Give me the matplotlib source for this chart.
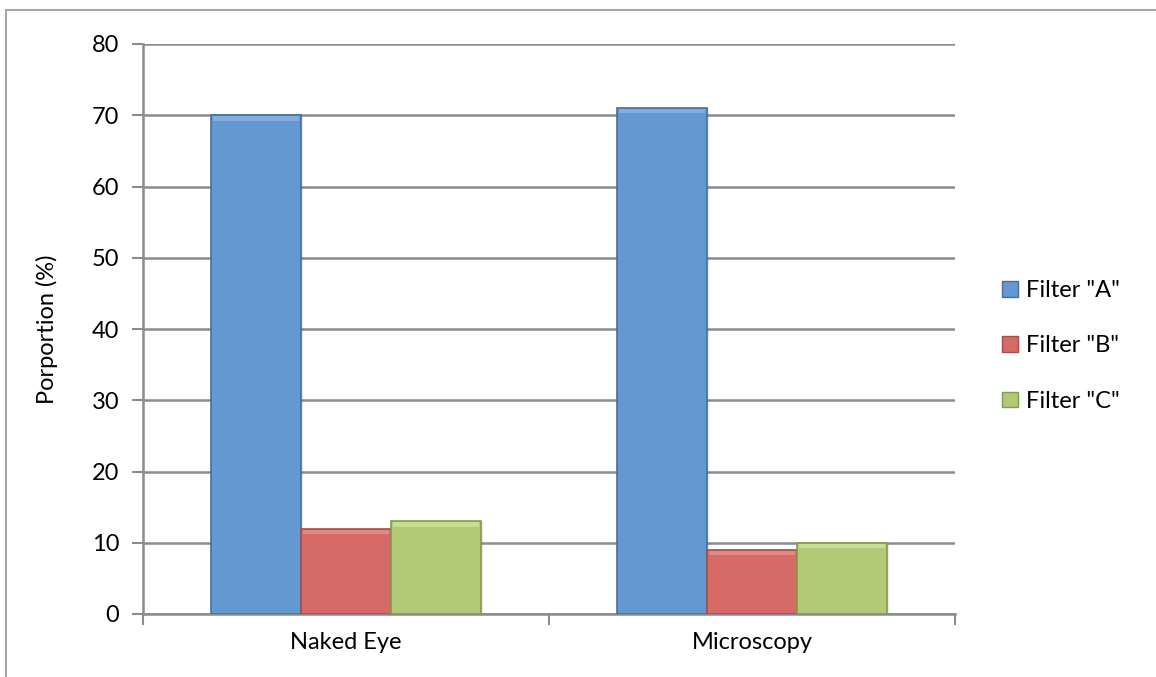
import numpy as np
import matplotlib.pyplot as plt
from matplotlib.lines import Line2D

plt.rcParams['font.family'] = ['Lato', 'DejaVu Sans']

categories = ['Naked Eye', 'Microscopy']
series_names = ['Filter "A"', 'Filter "B"', 'Filter "C"']
filter_a = [70, 71]
filter_b = [12, 9]
filter_c = [13, 10]
y_ticks = [0, 10, 20, 30, 40, 50, 60, 70, 80]

face_colors = ['#6398d0', '#d66a67', '#b2ca76']
edge_colors = ['#44709f', '#a64d4b', '#849b4f']
light_colors = ['#9cc3ee', '#f0a19e', '#d9eda4']
grid_color = '#8c8c8c'
fs = 17

fig = plt.figure(figsize=(11.56, 6.77), dpi=100)
ax = fig.add_axes([143 / 1156, 63 / 677, 812 / 1156, 570 / 677])

x = np.arange(len(categories))
width = 90 / 406
offsets = [-width, 0, width]

for vals, off, fc, ec, lc in zip([filter_a, filter_b, filter_c], offsets,
                                 face_colors, edge_colors, light_colors):
    # soft shadow to the right of each bar
    ax.bar(x + off + 0.006, vals, width, color='#000000', alpha=0.08,
           linewidth=0, zorder=2)
    ax.bar(x + off, vals, width, color=fc, edgecolor=ec, linewidth=1.2,
           zorder=3)
    # bevel highlight along the top edge
    ax.bar(x + off, [0.6] * len(vals), width * 0.95,
           bottom=[v - 0.75 for v in vals], color=lc, alpha=0.55,
           linewidth=0, zorder=4)

ax.set_xlim(-0.5, 1.5)
ax.set_ylim(0, 80)
ax.set_yticks(y_ticks)
ax.set_xticks([-0.5, 0.5, 1.5], minor=False)
ax.set_xticklabels([])
ax.set_xticks(x, minor=True)
ax.set_xticklabels(categories, minor=True)
ax.tick_params(axis='x', which='minor', length=0, pad=13, labelsize=fs)
ax.tick_params(axis='x', which='major', length=8, width=1.5,
               color=grid_color)
ax.tick_params(axis='y', length=8, width=1.5, color=grid_color,
               labelsize=fs, pad=9)

ax.yaxis.grid(True, color=grid_color, linewidth=1.8, zorder=0)
ax.set_axisbelow(True)
for side in ['top', 'right']:
    ax.spines[side].set_visible(False)
for side in ['left', 'bottom']:
    ax.spines[side].set_color(grid_color)
    ax.spines[side].set_linewidth(1.8)

ax.set_ylabel('Porportion (%)', fontsize=fs, labelpad=24)

handles = [plt.Rectangle((0, 0), 1, 1, facecolor=fc, edgecolor=ec)
           for fc, ec in zip(face_colors, edge_colors)]
fig.legend(handles, series_names, loc='center left',
           bbox_to_anchor=(981 / 1156, 1 - 346 / 677), frameon=False,
           fontsize=fs, handlelength=0.65, handleheight=0.65,
           handletextpad=0.35, labelspacing=1.45)

# outer chart border
fig.add_artist(Line2D([6 / 1156, 6 / 1156], [0, 1 - 10 / 677],
                      transform=fig.transFigure, color='#a6a6a6', lw=1.5))
fig.add_artist(Line2D([6 / 1156, 1], [1 - 10 / 677, 1 - 10 / 677],
                      transform=fig.transFigure, color='#a6a6a6', lw=1.5))

fig.savefig('out.png', dpi=100)
